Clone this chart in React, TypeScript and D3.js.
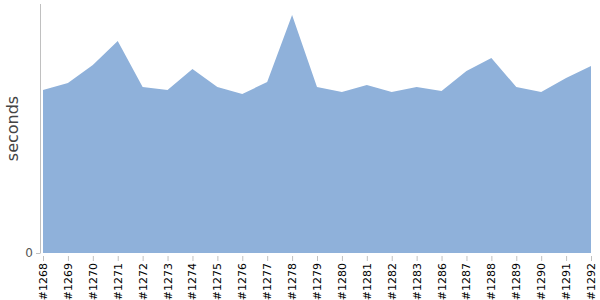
import React from "react";
import * as d3 from "d3";

const builds = [
  "#1268", "#1269", "#1270", "#1271", "#1272", "#1273", "#1274", "#1275",
  "#1276", "#1277", "#1278", "#1279", "#1280", "#1281", "#1282", "#1283",
  "#1286", "#1287", "#1288", "#1289", "#1290", "#1291", "#1292",
];
const seconds = [
  163, 170, 188, 212, 166, 163, 184, 166, 159, 171, 238, 166, 161, 168, 161, 166,
  162, 182, 195, 166, 161, 175, 187,
];
const yTicks = [0];
const yLabel = "seconds";

export default function App() {
  const W = 600, H = 300;
  const left = 43, right = 591, top = 4, bottom = 253;
  const x = d3.scalePoint<string>().domain(builds).range([left, right]);
  const y = d3.scaleLinear().domain([0, 249]).range([bottom, top]);
  const data = builds.map((b, i) => ({ b, v: seconds[i] }));
  const area = d3
    .area<{ b: string; v: number }>()
    .x((d) => x(d.b)!)
    .y0(y(0))
    .y1((d) => y(d.v));

  return (
    <svg
      width={W}
      height={H}
      style={{ position: "absolute", left: 0, top: 0 }}
      fontFamily="DejaVu Sans, sans-serif"
    >
      <path d={area(data)!} fill="#8fb1da" />
      <line x1={40.5} x2={40.5} y1={top} y2={bottom + 0.5} stroke="#c0c0c0" />
      {yTicks.map((t) => (
        <g key={t}>
          <line x1={36} x2={40} y1={y(t) + 0.5} y2={y(t) + 0.5} stroke="#c0c0c0" />
          <text x={33} y={y(t)} dy="0.35em" textAnchor="end" fontSize={12} fill="#555">
            {t}
          </text>
        </g>
      ))}
      <text
        transform={`translate(18,${(top + bottom) / 2}) rotate(-90)`}
        textAnchor="middle"
        fontSize={16}
        fill="#444"
      >
        {yLabel}
      </text>
      {builds.map((b) => (
        <g key={b} transform={`translate(${x(b)},0)`}>
          <line x1={0.5} x2={0.5} y1={256} y2={261} stroke="#c0c0c0" />
          <text
            transform={`translate(4,263) rotate(-90)`}
            textAnchor="end"
            fontSize={11}
            fill="#000"
          >
            {b}
          </text>
        </g>
      ))}
    </svg>
  );
}
